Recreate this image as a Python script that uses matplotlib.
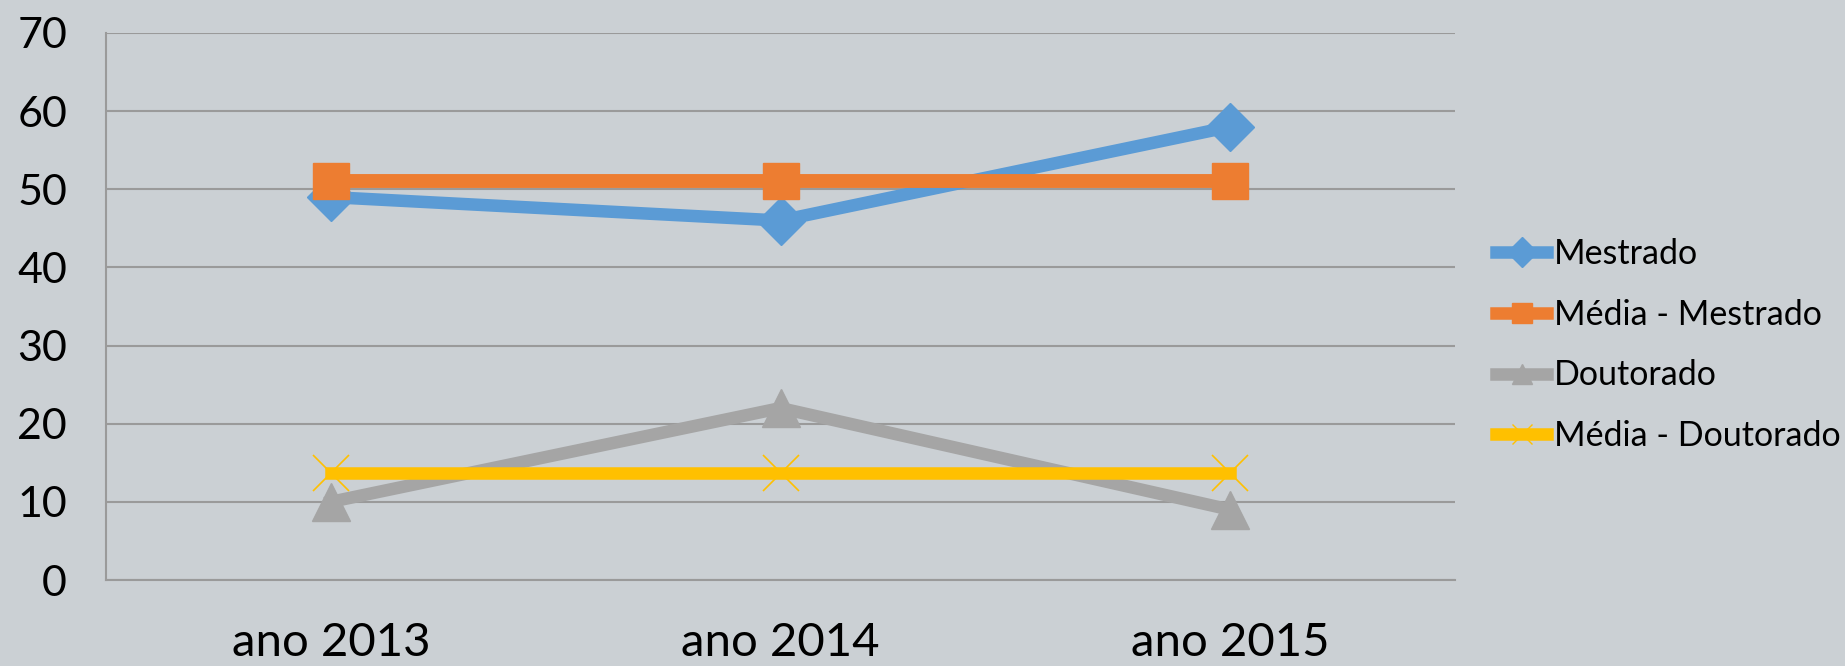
"""
Mestrado / Doutorado por ano, com as médias.
"""

import matplotlib
matplotlib.use("Agg")
import matplotlib.pyplot as plt
from matplotlib.lines import Line2D


anos = ["ano 2013", "ano 2014", "ano 2015"]

mestrado = [49, 46, 58]
media_mestrado = [51, 51, 51]
doutorado = [10, 22, 9]
media_doutorado = [13.67, 13.67, 13.67]

y_ticks = [0, 10, 20, 30, 40, 50, 60, 70]


plt.rcParams["font.family"] = ["Lato", "DejaVu Sans"]

fundo = "#cbd0d4"

fig = plt.figure(figsize=(18.45, 6.66), dpi=100, facecolor=fundo)
ax = fig.add_axes([106 / 1845, 1 - 580 / 666, 1349 / 1845, 547 / 666])
ax.set_facecolor(fundo)

x = range(len(anos))

ax.plot(x, mestrado, color="#5b9bd5", lw=9, marker="D",
        markersize=24, solid_joinstyle="miter", zorder=3)
ax.plot(x, media_mestrado, color="#ed7d31", lw=10, marker="s",
        markersize=26, zorder=4)
ax.plot(x, doutorado, color="#a5a5a5", lw=9, marker="^",
        markersize=28, zorder=5)
ax.plot(x, media_doutorado, color="#ffc000", lw=9, marker="x",
        markersize=26, markeredgewidth=1.2, zorder=6)

ax.set_xlim(-0.5, 2.5)
ax.set_ylim(0, 70)
ax.set_yticks(y_ticks)
ax.set_xticks(list(x))
ax.set_xticklabels(anos, fontsize=34)
ax.tick_params(axis="y", labelsize=31, length=0, pad=28)
ax.tick_params(axis="x", length=0, pad=30)

ax.grid(axis="y", color="#9a9a9a", lw=1.5)
ax.set_axisbelow(True)
for lado in ["top", "right"]:
    ax.spines[lado].set_visible(False)
ax.spines["left"].set_color("#9a9a9a")
ax.spines["left"].set_linewidth(1.5)
ax.spines["bottom"].set_color("#9a9a9a")
ax.spines["bottom"].set_linewidth(1.5)

handles = [
    Line2D([], [], color="#5b9bd5", lw=9, marker="D", markersize=15),
    Line2D([], [], color="#ed7d31", lw=9, marker="s", markersize=15),
    Line2D([], [], color="#a5a5a5", lw=9, marker="^", markersize=15),
    Line2D([], [], color="#ffc000", lw=9, marker="x", markersize=15,
           markeredgewidth=1),
]
fig.legend(handles, ["Mestrado", "Média - Mestrado", "Doutorado",
                     "Média - Doutorado"],
           loc="center left", bbox_to_anchor=(1496 / 1845, 1 - 345 / 666),
           frameon=False, fontsize=24.5, borderpad=0, borderaxespad=0,
           handlelength=1.5, handletextpad=0.2, labelspacing=0.85)

fig.savefig("out.png", dpi=100, facecolor=fundo)
